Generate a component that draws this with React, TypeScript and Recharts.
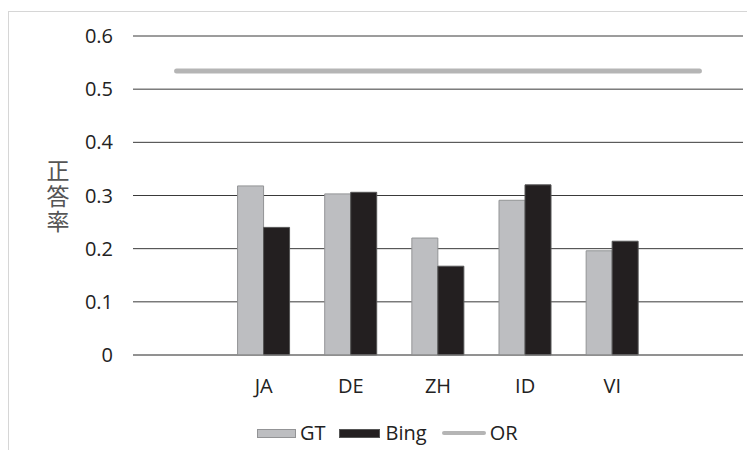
import React from 'react';
import { ComposedChart, Bar, Line, XAxis, YAxis, CartesianGrid, Legend } from 'recharts';

// Accuracy per target language for two MT systems, plus the original-text baseline.
const languages = ['', 'JA', 'DE', 'ZH', 'ID', 'VI', ''];
const gtRates: (number | null)[] = [null, 0.318, 0.303, 0.22, 0.291, 0.196, null];
const bingRates: (number | null)[] = [null, 0.24, 0.306, 0.167, 0.32, 0.214, null];
const orRates = [0.534, 0.534, 0.534, 0.534, 0.534, 0.534, 0.534];
const yTicks = [0, 0.1, 0.2, 0.3, 0.4, 0.5, 0.6];
const yLabel = '正答率';

const data = languages.map((lang, i) => ({
  lang,
  GT: gtRates[i],
  Bing: bingRates[i],
  OR: orRates[i],
}));

const FONT = '"Open Sans", "Liberation Sans", sans-serif';
const GT_FILL = '#bdbec1';
const GT_STROKE = '#939496';
const BING_FILL = '#231f20';
const BING_STROKE = '#555555';
const OR_COLOR = '#b5b5b5';

const W = 739;
const H = 442;

// Axis title set top-to-bottom in a single vertical text run.
const VerticalLabel = (props: any) => {
  const vb = props.viewBox || { x: 0, y: 0, width: 0, height: 0 };
  const cx = vb.x + 50;
  const cy = vb.y + vb.height / 2 + 2;
  return (
    <text
      x={cx}
      y={cy}
      textAnchor="middle"
      fontSize={23}
      letterSpacing={2.5}
      fill="#555555"
      fontFamily='"Noto Sans CJK JP", sans-serif'
      style={{ writingMode: 'vertical-rl' as any }}
    >
      {yLabel}
    </text>
  );
};

const LegendContent = () => (
  <div
    style={{
      display: 'flex',
      alignItems: 'center',
      height: 24,
      fontFamily: FONT,
      fontSize: 20,
      color: '#222',
      lineHeight: '24px',
    }}
  >
    <span style={{ width: 37, height: 7, background: GT_FILL, border: `1px solid ${GT_STROKE}`, marginRight: 4 }} />
    <span style={{ marginRight: 13 }}>GT</span>
    <span style={{ width: 39, height: 7, background: BING_FILL, border: `1px solid ${BING_STROKE}`, marginRight: 6 }} />
    <span style={{ marginRight: 15 }}>Bing</span>
    <span style={{ width: 44, height: 4, background: OR_COLOR, borderRadius: 2, marginRight: 4 }} />
    <span>OR</span>
  </div>
);

export default function App() {
  return (
    <div style={{ position: 'relative', width: W, height: H, overflow: 'hidden' }}>
      <div
        style={{
          position: 'absolute',
          left: 0,
          top: 3,
          width: W + 40,
          height: H + 40,
          border: '1px solid #d6d6d6',
          boxSizing: 'border-box',
        }}
      />
      <div style={{ position: 'absolute', left: 0, top: 0 }}>
        <ComposedChart
          width={W}
          height={H}
          data={data}
          margin={{ top: 28, right: 4, bottom: 41, left: 0 }}
          barCategoryGap="20%"
          barGap={0}
          style={{ fontFamily: FONT }}
        >
          <CartesianGrid vertical={false} stroke="#3a3a3a" strokeWidth={1} />
          <XAxis
            dataKey="lang"
            axisLine={{ stroke: '#868686' }}
            tickLine={false}
            tickMargin={18}
            tick={{ fill: '#222', fontSize: 20, fontFamily: FONT }}
            interval={0}
          />
          <YAxis
            width={125}
            domain={[0, 0.6]}
            ticks={yTicks}
            axisLine={false}
            tickLine={false}
            tickSize={6}
            tickMargin={14}
            tick={{ fill: '#222', fontSize: 20, fontFamily: FONT }}
            label={<VerticalLabel />}
          />
          <Legend
            content={<LegendContent />}
            wrapperStyle={{ position: 'absolute', top: 413, left: 249, width: 300, height: 24 }}
          />
          <Bar dataKey="GT" fill={GT_FILL} stroke={GT_STROKE} strokeWidth={1} isAnimationActive={false} />
          <Bar dataKey="Bing" fill={BING_FILL} stroke={BING_STROKE} strokeWidth={1} isAnimationActive={false} />
          <Line
            dataKey="OR"
            stroke={OR_COLOR}
            strokeWidth={5}
            strokeLinecap="round"
            dot={false}
            activeDot={false}
            isAnimationActive={false}
          />
        </ComposedChart>
      </div>
    </div>
  );
}
